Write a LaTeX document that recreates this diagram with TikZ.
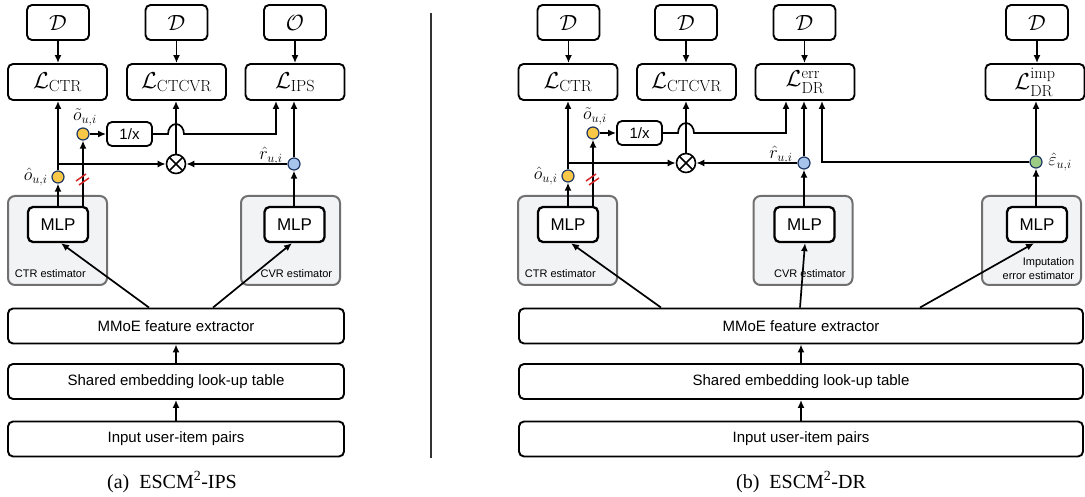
\RequirePackage{fix-cm}
\documentclass[tikz,border=0pt]{standalone}
\usepackage{amsmath}
\usepackage{fontspec}
\usepackage{tikz}
\usetikzlibrary{positioning, calc, arrows.meta}
\newfontfamily\sansfont{Liberation Sans}
\newfontfamily\capfont{Liberation Serif}
\definecolor{dotyellow}{HTML}{F9C846}
\definecolor{dotblue}{HTML}{A7C4EC}
\definecolor{dotgreen}{HTML}{9CCB86}
\definecolor{dotline}{HTML}{1F3864}
\definecolor{estfill}{HTML}{F2F3F5}
\definecolor{estgray}{HTML}{707070}
\definecolor{slashred}{HTML}{D62728}

\begin{document}
\begin{tikzpicture}[x=1pt, y=-1pt, line width=1.7pt,
	arr/.style={-{Latex[length=8pt, width=7pt]}},
	box/.style={draw, line width=1.9pt, rounded corners=5pt, inner sep=0pt, fill=white},
	dbox/.style={box, minimum width=62pt, minimum height=35pt, font=\fontsize{22}{22}\selectfont},
	lbox/.style={box, minimum width=99pt, minimum height=36pt, font=\fontsize{23}{23}\selectfont},
	rbox/.style={box, line width=1.8pt, minimum width=45pt, minimum height=24pt, font=\sansfont\fontsize{15}{15}\selectfont},
	wbox/.style={box, minimum height=35pt, font=\sansfont\fontsize{15}{18}\selectfont},
	estbox/.style={draw=estgray, fill=estfill, line width=2pt, rounded corners=7pt, minimum width=99pt, minimum height=89pt},
	mlp/.style={box, line width=2.3pt, minimum width=60pt, minimum height=35pt, font=\sansfont\fontsize{17}{17}\selectfont},
	esttxt/.style={font=\sansfont\fontsize{11}{14}\selectfont, inner sep=0pt, align=right},
	dot/.style={circle, draw=dotline, line width=1.2pt, minimum size=12pt, inner sep=0pt},
	lbl/.style={inner sep=1pt, font=\fontsize{18}{18}\selectfont},
	mult/.style={circle, draw, line width=1.6pt, minimum size=19pt, inner sep=0pt,
		path picture={\draw[line width=1.6pt] (path picture bounding box.north west) -- (path picture bounding box.south east)
			(path picture bounding box.north east) -- (path picture bounding box.south west);}},
	slash/.style={draw=slashred, line width=1.5pt},
	captxt/.style={font=\capfont\fontsize{20}{24}\selectfont}
]
	\useasboundingbox (0,0) rectangle (1085,497);

	% (a) ESCM2-IPS
	\node[dbox] (dA1) at (58,22.5) {$\mathcal{D}$};
	\node[dbox] (dA2) at (176.5,22.5) {$\mathcal{D}$};
	\node[dbox] (dA3) at (295,22.5) {$\mathcal{O}$};
	\node[lbox] (lA1) at (57.5,82) {$\mathcal{L}_{\mathrm{CTR}}$};
	\node[lbox] (lA2) at (176.5,82) {$\mathcal{L}_{\mathrm{CTCVR}}$};
	\node[lbox] (lA3) at (295,82) {$\mathcal{L}_{\mathrm{IPS}}$};
	\foreach \i in {1,2,3}
		\draw[arr] (dA\i.south) -- (dA\i.south |- lA\i.north);

	\node[estbox] (ctrA) at (57.5,240.5) {};
	\node[estbox] (cvrA) at (290.5,240.5) {};
	\node[esttxt, anchor=base west] (ctrAt) at ([xshift=7pt, yshift=8pt]ctrA.south west) {CTR estimator};
	\node[esttxt, anchor=base east] (cvrAt) at ([xshift=-8pt, yshift=8pt]cvrA.south east) {CVR estimator};
	\node[mlp] (mlpA1) at (58,224.5) {MLP};
	\node[mlp] (mlpA2) at (294.5,224.5) {MLP};

	\node[dot, fill=dotyellow] (oHatA) at (58,177) {};
	\node[dot, fill=dotyellow] (oTildeA) at (83,134) {};
	\node[dot, fill=dotblue] (rHatA) at (294,164) {};
	\node[rbox] (recA) at (129.5,134) {1/x};
	\node[mult] (mulA) at (176,164) {};
	\node[lbl, left=2pt of oHatA] (oHatAl) {$\hat{o}_{u,i}$};
	\node[lbl, above=0pt of oTildeA, xshift=2pt] (oTildeAl) {$\tilde{o}_{u,i}$};
	\node[lbl, anchor=south east] (rHatAl) at ([xshift=-3pt, yshift=-3pt]rHatA.west) {$\hat{r}_{u,i}$};

	\draw[arr] (mlpA1.north -| oHatA) -- (oHatA);
	\draw[arr] (oHatA) -- (oHatA |- lA1.south);
	\draw[arr] (oHatA |- mulA) -- (mulA);
	\draw[arr] (mlpA1.north -| oTildeA) -- (oTildeA);
	\draw[arr] (oTildeA) -- (recA);
	\draw[arr] (recA) -- ($(mulA |- recA)+(-8,0)$) arc[start angle=180, end angle=360, x radius=8, y radius=10]
		-| ([xshift=-19pt]lA3.south);
	\draw[arr] (mulA) -- (mulA |- lA2.south);
	\draw[arr] (rHatA) -- (mulA);
	\draw[arr] (rHatA) -- (rHatA |- lA3.south);
	\draw[arr] (mlpA2.north -| rHatA) -- (rHatA);
	\coordinate (cutA) at (83,179.5);
	\draw[slash] ($(cutA)+(-7,1.5)$) -- ($(cutA)+(3,-5.5)$) ($(cutA)+(-4,5.5)$) -- ($(cutA)+(6,-1.5)$);

	\node[wbox, minimum width=336pt] (mmoeA) at (176,326) {MMoE feature extractor};
	\node[wbox, minimum width=336pt] (embA) at (176,381.5) {Shared embedding look-up table};
	\node[wbox, minimum width=336pt] (inA) at (176,439) {Input user-item pairs};
	\draw[arr] ([xshift=-27pt]mmoeA.north) -- ([xshift=3pt]mlpA1.south);
	\draw[arr] ([xshift=37pt]mmoeA.north) -- ([xshift=-2.5pt]mlpA2.south);
	\draw[arr] (inA) -- (embA);
	\draw[arr] (embA) -- (mmoeA);
	\node[captxt] (capA) at (172,482) {(a)\ \ ESCM\textsuperscript{2}-IPS};

	\coordinate (sepT) at (431,13);
	\coordinate (sepB) at (431,458);
	\draw[black!80] (sepT) -- (sepB);

	% (b) ESCM2-DR
	\node[dbox] (dB1) at (568.5,22.5) {$\mathcal{D}$};
	\node[dbox] (dB2) at (686,22.5) {$\mathcal{D}$};
	\node[dbox] (dB3) at (804.5,22.5) {$\mathcal{D}$};
	\node[dbox] (dB4) at (1037,22.5) {$\mathcal{D}$};
	\node[lbox] (lB1) at (568,82) {$\mathcal{L}_{\mathrm{CTR}}$};
	\node[lbox] (lB2) at (686.5,82) {$\mathcal{L}_{\mathrm{CTCVR}}$};
	\node[lbox] (lB3) at (805,82) {$\mathcal{L}_{\mathrm{DR}}^{\mathrm{err}}$};
	\node[lbox] (lB4) at (1035,82) {$\mathcal{L}_{\mathrm{DR}}^{\mathrm{imp}}$};
	\foreach \i in {1,2,3,4}
		\draw[arr] (dB\i.south) -- (dB\i.south |- lB\i.north);

	\node[estbox] (ctrB) at (567.5,240.5) {};
	\node[estbox] (cvrB) at (803,240.5) {};
	\node[estbox] (impB) at (1031.5,240.5) {};
	\node[esttxt, anchor=base west] (ctrBt) at ([xshift=7pt, yshift=8pt]ctrB.south west) {CTR estimator};
	\node[esttxt, anchor=base east] (cvrBt) at ([xshift=-7pt, yshift=8pt]cvrB.south east) {CVR estimator};
	\node[esttxt, anchor=south east] (impBt) at ([xshift=-7pt, yshift=6pt]impB.south east) {Imputation\\error estimator};
	\node[mlp] (mlpB1) at (568,224.5) {MLP};
	\node[mlp] (mlpB2) at (804.5,224.5) {MLP};
	\node[mlp] (mlpB3) at (1037,224.5) {MLP};

	\node[dot, fill=dotyellow] (oHatB) at (568,176) {};
	\node[dot, fill=dotyellow] (oTildeB) at (593,133) {};
	\node[dot, fill=dotblue] (rHatB) at (804,163) {};
	\node[dot, fill=dotgreen] (epsB) at (1036,162) {};
	\node[rbox] (recB) at (639.5,133) {1/x};
	\node[mult] (mulB) at (686,163) {};
	\node[lbl, left=2pt of oHatB] (oHatBl) {$\hat{o}_{u,i}$};
	\node[lbl, above=0pt of oTildeB, xshift=2pt] (oTildeBl) {$\tilde{o}_{u,i}$};
	\node[lbl, anchor=south east] (rHatBl) at ([xshift=-3pt, yshift=-3pt]rHatB.west) {$\hat{r}_{u,i}$};
	\node[lbl, right=4pt of epsB] (epsBl) {$\hat{\varepsilon}_{u,i}$};

	\draw[arr] (mlpB1.north -| oHatB) -- (oHatB);
	\draw[arr] (oHatB) -- (oHatB |- lB1.south);
	\draw[arr] (oHatB |- mulB) -- (mulB);
	\draw[arr] (mlpB1.north -| oTildeB) -- (oTildeB);
	\draw[arr] (oTildeB) -- (recB);
	\draw[arr] (recB) -- ($(mulB |- recB)+(-8,0)$) arc[start angle=180, end angle=360, x radius=8, y radius=10]
		-| ([xshift=-19pt]lB3.south);
	\draw[arr] (mulB) -- (mulB |- lB2.south);
	\draw[arr] (rHatB) -- (mulB);
	\draw[arr] (rHatB) -- (rHatB |- lB3.south);
	\draw[arr] (mlpB2.north -| rHatB) -- (rHatB);
	\draw[arr] (epsB) -| ([xshift=17pt]lB3.south);
	\draw[arr] (epsB) -- (epsB |- lB4.south);
	\draw[arr] (mlpB3.north -| epsB) -- (epsB);
	\coordinate (cutB) at (593,179.5);
	\draw[slash] ($(cutB)+(-7,1.5)$) -- ($(cutB)+(3,-5.5)$) ($(cutB)+(-4,5.5)$) -- ($(cutB)+(6,-1.5)$);

	\node[wbox, minimum width=564pt] (mmoeB) at (801,326) {MMoE feature extractor};
	\node[wbox, minimum width=564pt] (embB) at (801,381.5) {Shared embedding look-up table};
	\node[wbox, minimum width=564pt] (inB) at (801,439) {Input user-item pairs};
	\draw[arr] ([xshift=-140pt]mmoeB.north) -- ([xshift=3pt]mlpB1.south);
	\draw[arr] ([xshift=-1pt]mmoeB.north) -- ([xshift=0.5pt]mlpB2.south);
	\draw[arr] ([xshift=119pt]mmoeB.north) -- ([xshift=-3pt]mlpB3.south);
	\draw[arr] (inB) -- (embB);
	\draw[arr] (embB) -- (mmoeB);
	\node[captxt] (capB) at (801,482) {(b)\ \ ESCM\textsuperscript{2}-DR};
\end{tikzpicture}
\end{document}
